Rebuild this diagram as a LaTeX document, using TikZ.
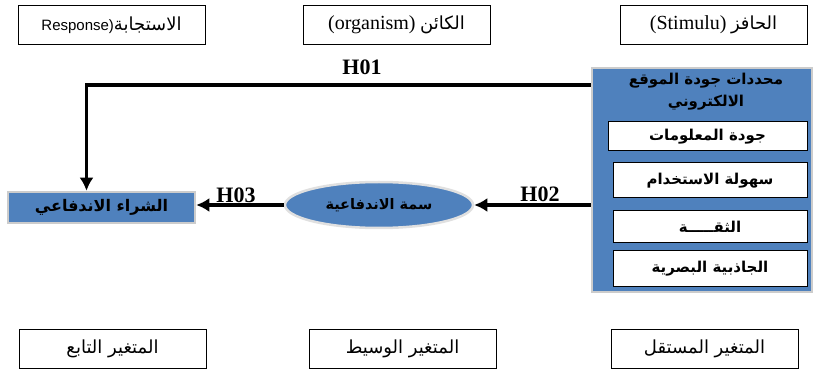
\documentclass[tikz,border=0pt]{standalone}
\usepackage{fontspec}
\setmainfont{Liberation Serif}
\newfontfamily\arabicfont[Script=Arabic]{DejaVu Sans}
\newfontfamily\latinsans{Liberation Sans}
\TeXXeTstate=1
\usepackage{xcolor}
\definecolor{azulModelo}{HTML}{4F81BD}
\usepackage{tikz}
\usetikzlibrary{arrows.meta,positioning,shapes.geometric}
\newcommand{\artxt}[1]{{\arabicfont\beginR #1\endR}}

\begin{document}
\begin{tikzpicture}[x=1pt,y=-1pt,
 labelbox/.style={draw,line width=0.9pt,fill=white,minimum width=187pt,minimum height=39pt,
 inner sep=0pt,font=\fontsize{18}{20}\selectfont},
 itembox/.style={draw,line width=1pt,fill=white,minimum width=194pt,inner sep=0pt,
 font=\fontsize{15}{17}\selectfont\bfseries},
 bluebox/.style={draw=black!20,line width=2.5pt,fill=azulModelo},
 hypLabel/.style={font=\fontsize{22}{24}\selectfont\bfseries},
 arr/.style={-{Latex[length=13pt,width=14pt]},line width=3.3pt}]
 \useasboundingbox (0,0) rectangle (817,371);
 % top row
 \node[labelbox] (response) at (111.5,25) {{\latinsans\fontsize{15}{17}\selectfont Response)}\artxt{الاستجابة}};
 \node[labelbox] (organism) at (396.5,25) {{\fontsize{20}{22}\selectfont(organism)}\ \artxt{الكائن}};
 \node[labelbox] (stimulus) at (713.5,25) {{\fontsize{20}{22}\selectfont(Stimulu)}\ \artxt{الحافز}};
 % independent variable panel
 \node[bluebox,minimum width=220pt,minimum height=224pt] (panel) at (702,180) {};
 \node[font=\fontsize{15}{22}\selectfont\bfseries,align=center] (paneltitle) at (706,92)
 {\artxt{محددات جودة الموقع}\\\artxt{الالكتروني}};
 \node[itembox,minimum width=199pt,minimum height=29pt] (quality) at (707.5,136.5) {\artxt{جودة المعلومات}};
 \node[itembox,minimum height=35pt] (usability) at (710,180.5) {\artxt{سهولة الاستخدام}};
 \node[itembox,minimum height=32pt] (trust) at (710,227) {\artxt{الثقـــــة}};
 \node[itembox,minimum height=36pt] (appeal) at (710,269) {\artxt{الجاذبية البصرية}};
 % mediator and dependent
 \node[bluebox,ellipse,draw=black!12,minimum width=188pt,minimum height=46pt,
 font=\fontsize{14.5}{16}\selectfont\bfseries] (trait) at (379,205) {\artxt{سمة الاندفاعية}};
 \node[bluebox,minimum width=187pt,minimum height=31pt,
 font=\fontsize{16}{18}\selectfont\bfseries] (purchase) at (101.5,207.5) {\artxt{الشراء الاندفاعي}};
 % hypotheses
 \coordinate (h1start) at (panel.west |- 0,85);
 \draw[arr] (h1start) -| ([xshift=-15pt]purchase.north);
 \draw[arr] (panel.west |- trait.east) -- (trait.east);
 \draw[arr] (trait.west) -- (trait.west -| purchase.east);
 \node[hypLabel] (h1) at (362,67) {H01};
 \node[hypLabel] (h2) at (540,194) {H02};
 \node[hypLabel] (h3) at (236,195) {H03};
 % bottom row
 \node[labelbox] (dependent) at (112.5,349) {\artxt{المتغير التابع}};
 \node[labelbox] (mediator) at (402.5,349) {\artxt{المتغير الوسيط}};
 \node[labelbox] (independent) at (704.5,349) {\artxt{المتغير المستقل}};
\end{tikzpicture}
\end{document}
